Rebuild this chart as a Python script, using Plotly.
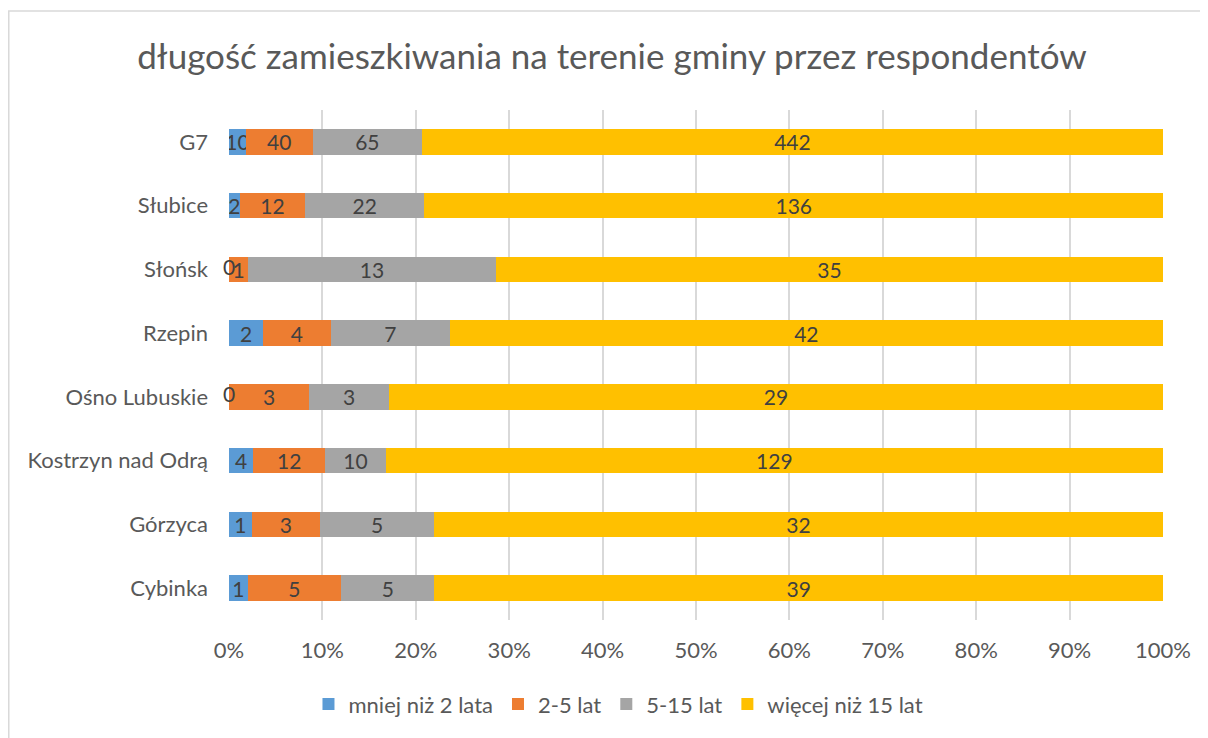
import plotly.graph_objects as go

# categories listed bottom -> top, as plotted on the y axis
gminy = [
    "Cybinka",
    "Górzyca",
    "Kostrzyn nad Odrą",
    "Ośno Lubuskie",
    "Rzepin",
    "Słońsk",
    "Słubice",
    "G7",
]
mniej_niz_2 = [1, 1, 4, 0, 2, 0, 2, 10]
lat_2_5 = [5, 3, 12, 3, 4, 1, 12, 40]
lat_5_15 = [5, 5, 10, 3, 7, 13, 22, 65]
wiecej_niz_15 = [39, 32, 129, 29, 42, 35, 136, 442]

pct_ticks = [0, 10, 20, 30, 40, 50, 60, 70, 80, 90, 100]

series = [
    ("mniej niż 2 lata", mniej_niz_2, "#5B9BD5"),
    ("2-5 lat", lat_2_5, "#ED7D31"),
    ("5-15 lat", lat_5_15, "#A5A5A5"),
    ("więcej niż 15 lat", wiecej_niz_15, "#FFC000"),
]

FONT = "Lato, 'Open Sans', sans-serif"
TEXT_COLOR = "#595959"
LABEL_COLOR = "#404040"
GRID = "#D9D9D9"
LABEL_SIZE = 21

fig = go.Figure()
for name, values, color in series:
    fig.add_trace(
        go.Bar(
            name=name,
            y=gminy,
            x=values,
            orientation="h",
            marker={"color": color, "line": {"width": 0}},
            text=[str(v) if v else "" for v in values],
            textposition="inside",
            insidetextanchor="middle",
            textangle=0,
            constraintext="none",
            textfont={"color": LABEL_COLOR, "size": LABEL_SIZE, "family": FONT},
        )
    )

# zero-width segments still get their "0" label, like the original chart
totals = [sum(vals) for vals in zip(*(s[1] for s in series))]
zero_x, zero_y = [], []
for row, cat in enumerate(gminy):
    cum = 0
    for _, values, _ in series:
        if values[row] == 0:
            zero_x.append(100 * cum / totals[row])
            zero_y.append(cat)
        cum += values[row]
fig.add_trace(
    go.Scatter(
        x=zero_x,
        y=zero_y,
        mode="text",
        text=["0"] * len(zero_x),
        textposition="middle center",
        textfont={"color": LABEL_COLOR, "size": LABEL_SIZE, "family": FONT},
        showlegend=False,
        cliponaxis=False,
        hoverinfo="skip",
    )
)

fig.update_layout(
    barmode="stack",
    barnorm="percent",
    bargap=0.6,
    width=1208,
    height=738,
    margin={"l": 221, "r": 53, "t": 102, "b": 126, "autoexpand": False},
    paper_bgcolor="white",
    plot_bgcolor="white",
    font={"family": FONT, "color": TEXT_COLOR, "size": 22},
    title={
        "text": "długość zamieszkiwania na terenie gminy przez respondentów",
        "x": 0.5,
        "xanchor": "center",
        "y": 0.934,
        "yanchor": "middle",
        "font": {"size": 35, "color": TEXT_COLOR, "family": FONT},
    },
    legend={
        "orientation": "h",
        "x": 0.417,
        "xanchor": "center",
        "y": -0.165,
        "yanchor": "middle",
        "font": {"size": 22, "color": TEXT_COLOR},
        "traceorder": "normal",
        "itemwidth": 30,
    },
    shapes=[
        {
            "type": "rect",
            "xref": "paper",
            "yref": "paper",
            "x0": -0.2358,
            "x1": 1.4,
            "y0": -0.4,
            "y1": 1.194,
            "line": {"color": GRID, "width": 1.5},
            "fillcolor": "rgba(0,0,0,0)",
            "layer": "below",
        }
    ],
)

fig.update_xaxes(
    range=[0, 100],
    tickmode="array",
    tickvals=pct_ticks,
    ticktext=[f"{v}%" for v in pct_ticks],
    showgrid=True,
    gridcolor=GRID,
    gridwidth=1.5,
    zeroline=False,
    showline=False,
    ticks="",
    ticklabelstandoff=15,
    tickfont={"size": 22, "color": TEXT_COLOR},
)
fig.update_yaxes(
    showgrid=False,
    zeroline=False,
    showline=False,
    ticks="",
    ticklabelstandoff=20,
    tickfont={"size": 22, "color": TEXT_COLOR},
)

fig.write_html("out.html")
